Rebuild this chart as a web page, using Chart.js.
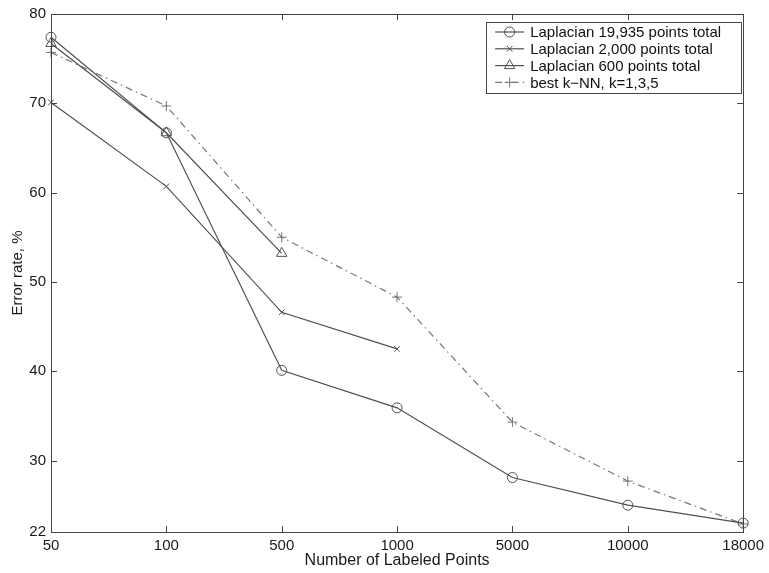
<!DOCTYPE html>
<html>
<head>
<meta charset="utf-8">
<script src="https://cdn.jsdelivr.net/npm/chart.js@4/dist/chart.umd.min.js"></script>
<style>
  html, body { margin: 0; padding: 0; background: #fff; }
  #wrap { width: 769px; height: 573px; }
</style>
</head>
<body>
<div id="wrap"><canvas id="chart" width="769" height="573"></canvas></div>
<script>
// valores
var labels = ["50", "100", "500", "1000", "5000", "10000", "18000"];
var lap19935 = [77.4, 66.7, 40.1, 35.9, 28.1, 25.0, 23.0];
var lap2000 = [70.1, 60.7, 46.6, 42.5, null, null, null];
var lap600 = [76.7, 66.7, 53.2, null, null, null, null];
var knn = [75.7, 69.7, 55.0, 48.3, 34.3, 27.7, 22.9];
var yTicks = [22, 30, 40, 50, 60, 70, 80];

var seriesNames = [
  "Laplacian 19,935 points total",
  "Laplacian 2,000 points total",
  "Laplacian 600 points total",
  "best k\u2212NN, k=1,3,5"
];

Chart.defaults.font.family = "Liberation Sans";
Chart.defaults.font.size = 15;
Chart.defaults.color = "#1a1a1a";

var axisColor = "#444";

// marcos y ticks hacia adentro, estilo matlab
var boxTicks = {
  id: "boxTicks",
  afterDraw: function (chart) {
    var ctx = chart.ctx;
    var a = chart.chartArea;
    var xs = chart.scales.x, ys = chart.scales.y;
    ctx.save();
    ctx.strokeStyle = axisColor;
    ctx.lineWidth = 1;
    ctx.strokeRect(Math.round(a.left) + 0.5, Math.round(a.top) + 0.5,
      Math.round(a.right - a.left), Math.round(a.bottom - a.top));
    ctx.beginPath();
    labels.forEach(function (l, i) {
      var px = Math.round(xs.getPixelForValue(i)) + 0.5;
      ctx.moveTo(px, a.bottom); ctx.lineTo(px, a.bottom - 6);
      ctx.moveTo(px, a.top); ctx.lineTo(px, a.top + 6);
    });
    yTicks.forEach(function (v) {
      var py = Math.round(ys.getPixelForValue(v)) + 0.5;
      ctx.moveTo(a.left, py); ctx.lineTo(a.left + 6, py);
      ctx.moveTo(a.right, py); ctx.lineTo(a.right - 6, py);
    });
    ctx.stroke();
    ctx.restore();
  }
};

// leyenda dentro del area, arriba a la derecha
var boxLegend = {
  id: "boxLegend",
  afterDraw: function (chart) {
    var ctx = chart.ctx;
    var a = chart.chartArea;
    var w = 255, h = 71;
    var x0 = a.right - 2 - w, y0 = a.top + 8;
    ctx.save();
    ctx.fillStyle = "#fff";
    ctx.fillRect(x0, y0, w, h);
    ctx.strokeStyle = axisColor;
    ctx.lineWidth = 1;
    ctx.strokeRect(Math.round(x0) + 0.5, Math.round(y0) + 0.5, w, h);
    chart.data.datasets.forEach(function (ds, i) {
      var cy = y0 + 10 + i * 16.8;
      ctx.save();
      ctx.strokeStyle = ds.borderColor;
      ctx.lineWidth = ds.borderWidth;
      ctx.setLineDash(ds.borderDash || []);
      ctx.beginPath();
      ctx.moveTo(x0 + 9, cy);
      ctx.lineTo(x0 + 38, cy);
      ctx.stroke();
      ctx.restore();
      ctx.save();
      ctx.strokeStyle = ds.borderColor;
      ctx.fillStyle = "rgba(0,0,0,0)";
      ctx.lineWidth = 1;
      Chart.helpers.drawPoint(ctx, {
        pointStyle: ds.pointStyle,
        radius: ds.pointRadius,
        borderWidth: 1
      }, x0 + 23.5, cy);
      ctx.restore();
      ctx.fillStyle = "#111";
      ctx.font = "15px 'Liberation Sans'";
      ctx.textBaseline = "middle";
      ctx.fillText(ds.label, x0 + 44, cy + 1);
    });
    ctx.restore();
  }
};

function serie(name, data, style, radius, color, dash) {
  return {
    label: name,
    data: data,
    borderColor: color,
    backgroundColor: "rgba(0,0,0,0)",
    borderWidth: 1.2,
    borderDash: dash,
    pointStyle: style,
    pointRadius: radius,
    pointHoverRadius: radius,
    pointBorderColor: color,
    pointBorderWidth: 1,
    tension: 0,
    spanGaps: false
  };
}

var chart = new Chart("chart", {
  type: "line",
  data: {
    labels: labels,
    datasets: [
      serie(seriesNames[0], lap19935, "circle", 5, "#505050"),
      serie(seriesNames[1], lap2000, "crossRot", 4, "#505050"),
      serie(seriesNames[2], lap600, "triangle", 6, "#505050"),
      serie(seriesNames[3], knn, "cross", 5, "#777", [7, 4, 1.5, 4])
    ]
  },
  options: {
    responsive: false,
    animation: false,
    layout: { padding: { top: 10, right: 21, left: 0, bottom: 0 } },
    plugins: {
      legend: { display: false },
      tooltip: { enabled: false }
    },
    scales: {
      x: {
        type: "category",
        offset: false,
        grid: { display: false, drawTicks: false },
        border: { display: false },
        ticks: { padding: 5, maxRotation: 0, autoSkip: false },
        title: { display: true, text: "Number of Labeled Points", font: { size: 16 }, padding: { top: 0, bottom: 3 } },
        afterFit: function (s) { s.height = 41; }
      },
      y: {
        min: 22,
        max: 80,
        grid: { display: false, drawTicks: false },
        border: { display: false },
        ticks: { padding: 5 },
        afterBuildTicks: function (s) {
          s.ticks = yTicks.map(function (v) { return { value: v }; });
        },
        title: { display: true, text: "Error rate, %", font: { size: 15 }, padding: { top: 9, bottom: 0 } },
        afterFit: function (s) { s.width = 51; }
      }
    }
  },
  plugins: [boxTicks, boxLegend]
});
</script>
</body>
</html>
